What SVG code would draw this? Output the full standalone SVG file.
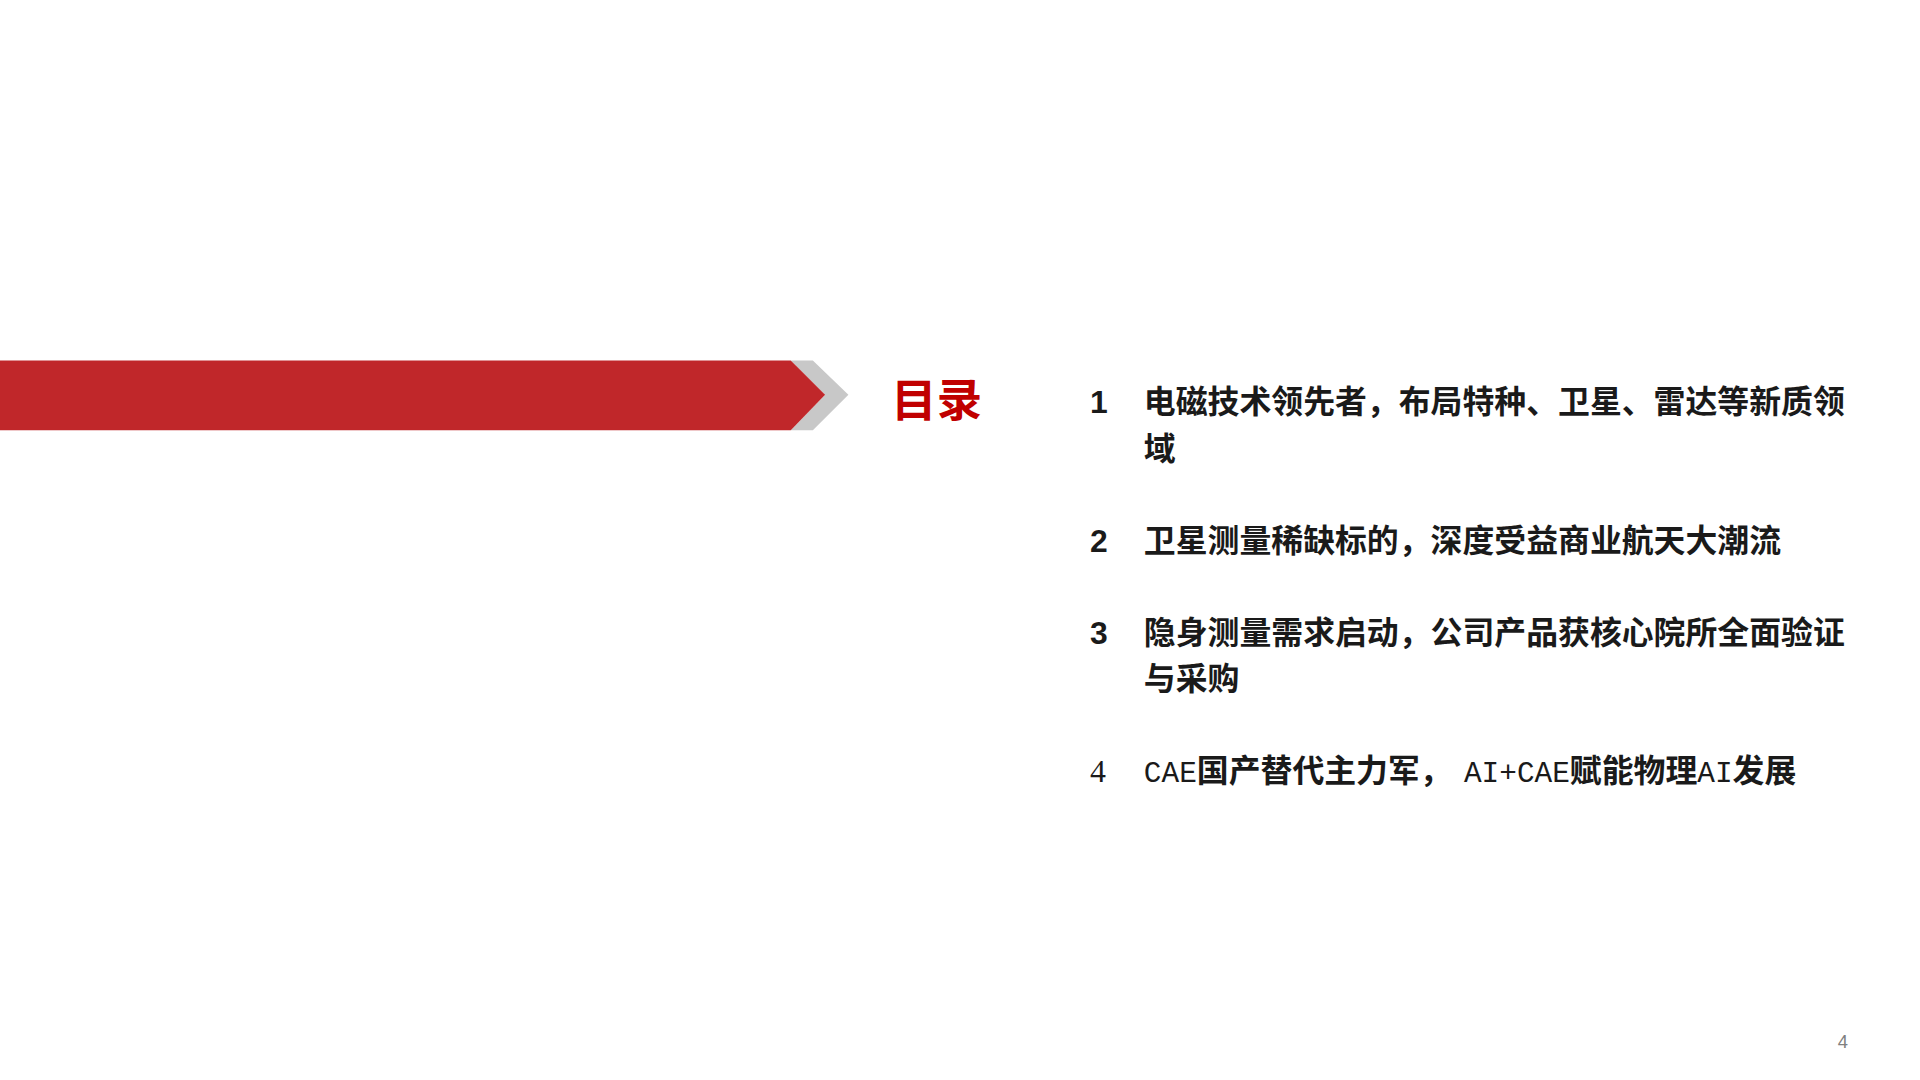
<svg xmlns="http://www.w3.org/2000/svg" width="1920" height="1080" viewBox="0 0 1920 1080">
<style>
.t{font-family:"Liberation Sans","Noto Sans CJK SC",sans-serif;font-weight:bold;font-size:26px;fill:#1a1a1a}
.m{font-family:"Liberation Mono","Noto Sans CJK SC",monospace;font-weight:normal;font-size:24px}
</style>
<rect width="1920" height="1080" fill="#fff"/>
<g transform="scale(1.226)">
<g id="banner">
<polygon points="645,294 663,294 692,322 663,351 645,351 673,322" fill="#c8c8c8"/>
<polygon points="0,294 645,294 673,322 645,351 0,351" fill="#c0272a"/>
</g>
<g id="title"><text x="727" y="340" font-family="'Liberation Sans','Noto Sans CJK SC',sans-serif" font-weight="bold" font-size="37" fill="#c00000">目录</text></g>
<g id="item1"><text class="t" x="889" y="337">1</text><text class="t" x="933" y="337">电磁技术领先者，布局特种、卫星、雷达等新质领</text><text class="t" x="933" y="375">域</text></g>
<g id="item2"><text class="t" x="889" y="450">2</text><text class="t" x="933" y="450">卫星测量稀缺标的，深度受益商业航天大潮流</text></g>
<g id="item3"><text class="t" x="889" y="525">3</text><text class="t" x="933" y="525">隐身测量需求启动，公司产品获核心院所全面验证</text><text class="t" x="933" y="563">与采购</text></g>
<g id="item4"><text class="t" x="889" y="638" style="font-family:'Liberation Serif',serif;font-weight:normal">4</text><text class="t" x="933" y="638"><tspan class="m">CAE</tspan>国产替代主力军，<tspan class="m" dx="10">AI+CAE</tspan>赋能物理<tspan class="m">AI</tspan>发展</text></g>
<g id="page"><text x="1499" y="855" font-family="'Liberation Sans',sans-serif" font-size="15" fill="#808080">4</text></g>
</g>
</svg>
